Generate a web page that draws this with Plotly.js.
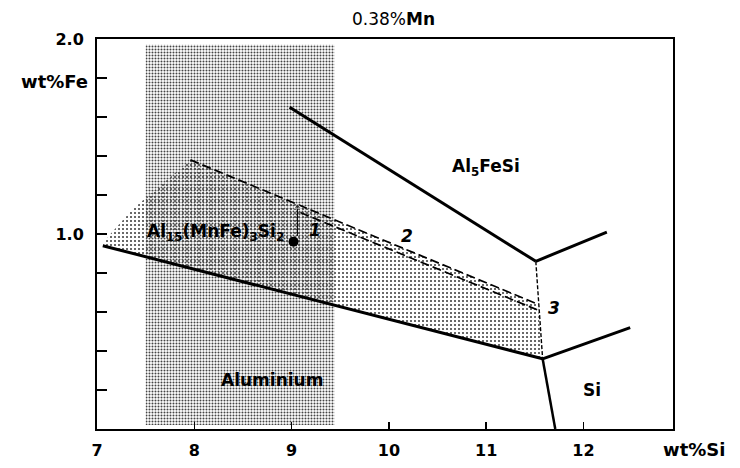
<!DOCTYPE html>
<html>
<head>
<meta charset="utf-8">
<script src="https://cdn.plot.ly/plotly-3.0.1.min.js"></script>
<style>html,body{margin:0;padding:0;background:#fff;}#chart{width:740px;height:468px;}</style>
</head>
<body>
<div id="chart"></div>
<script>
// ---- data (wt% Si on x, wt% Fe on y) ----
const xTickVals = [7, 8, 9, 10, 11, 12];
const xTickText = ["7", "8", "9", "10", "11", "12"];
const yTickVals = [1.0, 2.0];
const yTickText = ["1.0", "2.0"];
const yMinorTickVals = [0.2, 0.4, 0.6, 0.8, 1.2, 1.4, 1.6, 1.8];

// Aluminium composition band (shaded vertical strip)
const bandX = [7.5, 9.44, 9.44, 7.5, 7.5];
const bandY = [0.02, 0.02, 1.97, 1.97, 0.02];

// Al15(MnFe)3Si2 field (lighter stipple)
const al15X = [7.06, 7.12, 7.37, 7.96, 11.53, 11.58, 7.06];
const al15Y = [0.94, 0.99, 1.13, 1.38, 0.64, 0.36, 0.94];

// solid phase boundaries
const lowerBoundX = [7.06, 11.58];
const lowerBoundY = [0.94, 0.36];
const lowerRightX = [11.58, 12.48];
const lowerRightY = [0.36, 0.52];
const siBoundX = [11.58, 11.71];
const siBoundY = [0.36, 0.0];
const upperBoundX = [8.98, 11.51];
const upperBoundY = [1.65, 0.86];
const upperRightX = [11.51, 12.24];
const upperRightY = [0.86, 1.01];

// dashed lines
const verticalDashX = [11.51, 11.58];
const verticalDashY = [0.86, 0.36];
const line2X = [7.96, 11.53];
const line2Y = [1.38, 0.64];
const line3X = [9.09, 11.53];
const line3Y = [1.11, 0.61];

// measured alloy point and its arrow towards curve 1
const pointX = [9.02];
const pointY = [0.96];
const arrowX = [9.06, 9.06];
const arrowY = [0.99, 1.14];

const FONT = "DejaVu Sans, Liberation Sans, Arial, sans-serif";
const solid = {color: "#000", width: 3};
const dashed = {color: "#000", width: 1.7, dash: "9px,4px"};

const traces = [
  {x: bandX, y: bandY, mode: "lines", fill: "toself", line: {width: 0, color: "rgba(0,0,0,0)"},
   fillcolor: "rgba(0,0,0,0)",
   fillpattern: {shape: ".", size: 3, solidity: 0.36, fgcolor: "#444", bgcolor: "rgba(255,255,255,0)"},
   hoverinfo: "skip"},
  {x: al15X, y: al15Y, mode: "lines", fill: "toself", line: {width: 0, color: "rgba(0,0,0,0)"},
   fillcolor: "rgba(0,0,0,0)",
   fillpattern: {shape: ".", size: 4, solidity: 0.22, fgcolor: "#444", bgcolor: "rgba(255,255,255,0)"},
   hoverinfo: "skip"},
  {x: lowerBoundX, y: lowerBoundY, mode: "lines", line: solid},
  {x: lowerRightX, y: lowerRightY, mode: "lines", line: solid},
  {x: siBoundX, y: siBoundY, mode: "lines", line: {color: "#000", width: 2.5}},
  {x: upperBoundX, y: upperBoundY, mode: "lines", line: solid},
  {x: upperRightX, y: upperRightY, mode: "lines", line: solid},
  {x: verticalDashX, y: verticalDashY, mode: "lines", line: {color: "#000", width: 1.4, dash: "4px,2px"}},
  {x: line2X, y: line2Y, mode: "lines", line: dashed},
  {x: line3X, y: line3Y, mode: "lines", line: dashed},
  {x: arrowX, y: arrowY, mode: "lines+markers", line: {color: "#000", width: 1},
   marker: {symbol: "triangle-up", size: [0, 6], color: "#000"}},
  {x: pointX, y: pointY, mode: "markers", marker: {color: "#000", size: 10}},
  // invisible trace bound to the tick-only overlay axis
  {x: [7], y: [0], yaxis: "y2", mode: "markers", marker: {size: 0, opacity: 0}, hoverinfo: "skip"}
];

const labelFont = {family: FONT, size: 17, color: "#000", weight: "bold"};
const layout = {
  width: 740, height: 468,
  margin: {l: 97, r: 67, t: 39, b: 39},
  paper_bgcolor: "#fff", plot_bgcolor: "#fff",
  showlegend: false,
  font: {family: FONT, color: "#000"},
  xaxis: {
    range: [7, 12.92], tickvals: xTickVals, ticktext: xTickText,
    ticks: "inside", ticklen: 7, tickwidth: 1.5, tickcolor: "#000",
    showline: true, mirror: true, linewidth: 2, linecolor: "#000",
    showgrid: false, zeroline: false, ticklabelstandoff: 6,
    tickfont: {family: FONT, size: 16, color: "#000", weight: "bold"}
  },
  yaxis: {
    range: [0, 2], tickvals: yTickVals, ticktext: yTickText,
    ticks: "inside", ticklen: 10, tickwidth: 1.5, tickcolor: "#000",
    showline: true, mirror: true, linewidth: 2, linecolor: "#000",
    showgrid: false, zeroline: false, ticklabelstandoff: 8,
    tickfont: {family: FONT, size: 16, color: "#000", weight: "bold"}
  },
  yaxis2: {
    overlaying: "y", side: "left", range: [0, 2], tickvals: yMinorTickVals,
    ticks: "inside", ticklen: 10, tickwidth: 1.5, tickcolor: "#000",
    showticklabels: false, showline: false, showgrid: false, zeroline: false
  },
  annotations: [
    {text: "0.38%<b>Mn</b>", xref: "paper", yref: "paper", x: 0.515, y: 1.0, yanchor: "bottom", yshift: 8,
     showarrow: false, font: {family: FONT, size: 17, color: "#000"}},
    {text: "wt%Fe", xref: "paper", yref: "paper", x: -0.012, y: 0.89, xanchor: "right", yanchor: "middle",
     showarrow: false, font: {family: FONT, size: 18, color: "#000", weight: "bold"}},
    {text: "wt%Si", xref: "paper", yref: "paper", x: 1.0, y: 0, xanchor: "left", yanchor: "top", yshift: -8, xshift: -12,
     showarrow: false, font: {family: FONT, size: 18, color: "#000", weight: "bold"}},
    {text: "Al<sub>5</sub>FeSi", x: 11.0, y: 1.34, showarrow: false, font: labelFont},
    {text: "Al<sub>15</sub>(MnFe)<sub>3</sub>Si<sub>2</sub>", x: 8.22, y: 1.01, showarrow: false, font: labelFont},
    {text: "<i>1</i>", x: 9.24, y: 1.02, showarrow: false, font: labelFont},
    {text: "<i>2</i>", x: 10.19, y: 0.99, showarrow: false, font: labelFont},
    {text: "<i>3</i>", x: 11.7, y: 0.62, showarrow: false, font: labelFont},
    {text: "Aluminium", x: 8.8, y: 0.25, showarrow: false, font: labelFont},
    {text: "Si", x: 12.09, y: 0.2, showarrow: false, font: labelFont}
  ]
};

Plotly.newPlot("chart", traces, layout, {displayModeBar: false, staticPlot: true});
</script>
</body>
</html>
